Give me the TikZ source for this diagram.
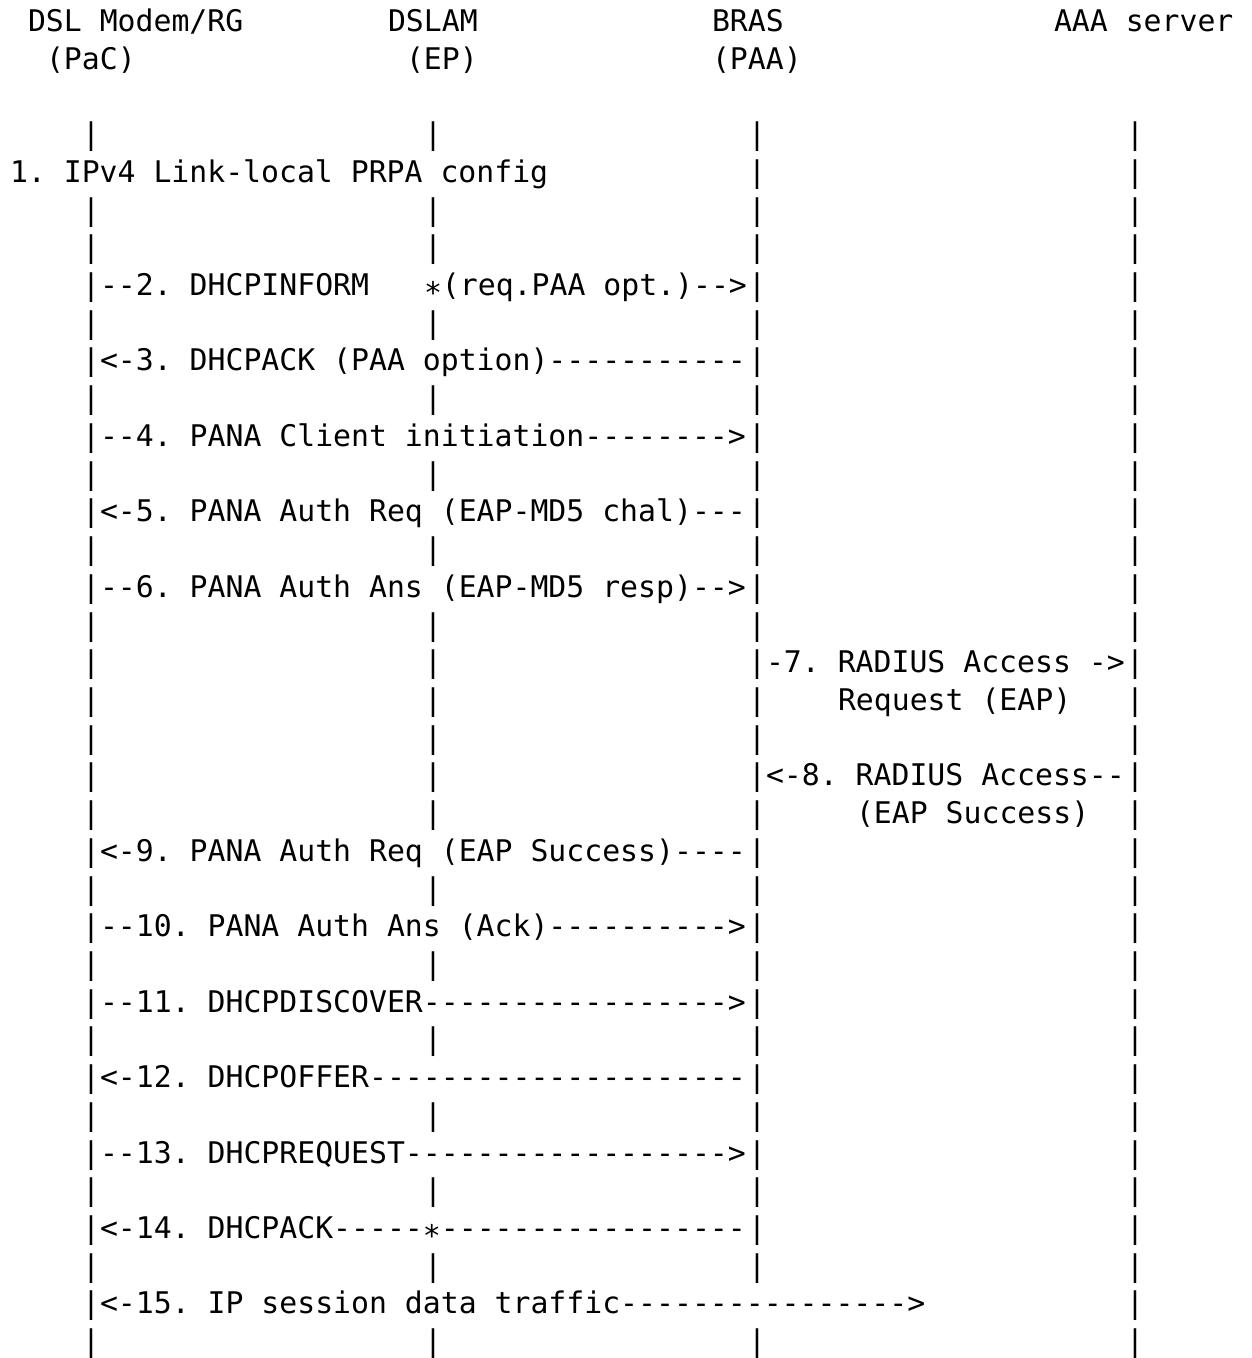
\documentclass[tikz,border=0pt]{standalone}
\usepackage{fontspec}
\setmonofont{DejaVu Sans Mono}
\ExplSyntaxOn
\cs_new:Npn \dashrun #1 { \prg_replicate:nn {#1} {-} }
\ExplSyntaxOff
% asterisk set at dash height
\newcommand\lowstar{\raisebox{-0.26em}{*}}
\tikzset{
  ascii/.style={font=\ttfamily\fontsize{29.8pt}{37.72pt}\selectfont,
    inner sep=0pt, outer sep=0pt, anchor=base west, text=black},
}
\begin{document}
% one unit in x is one character cell, one unit in y is one text line
\begin{tikzpicture}[x=18pt, y=-37.72pt]
\useasboundingbox (-10pt,31.5pt) rectangle (1241pt,-1326.5pt);

% column headings
\node[ascii] (hpac)  at (1,0)  {DSL Modem/RG};
\node[ascii] (hdsl)  at (21,0) {DSLAM};
\node[ascii] (hbras) at (39,0) {BRAS};
\node[ascii] (haaa)  at (58,0) {AAA server};
\node[ascii] (rpac)  at (2,1)  {(PaC)};
\node[ascii] (rep)   at (22,1) {(EP)};
\node[ascii] (rpaa)  at (39,1) {(PAA)};

% lifelines, one bar per text line
\foreach \r in {3,5,6,...,35}
  \node[ascii] (pac\r) at (4,\r) {|};
\foreach \r in {3,5,6,8,10,12,14,16,17,18,19,20,21,23,25,27,29,31,33,35}
  \node[ascii] (ep\r) at (23,\r) {|};
\foreach \r in {3,...,33,35}
  \node[ascii] (paa\r) at (41,\r) {|};
\foreach \r in {3,...,35}
  \node[ascii] (aaa\r) at (62,\r) {|};

% message flow
\node[ascii] (m1)  at (0,4)  {1. IPv4 Link-local PRPA config};
\node[ascii] (m2a) at (5,7)  {--2. DHCPINFORM};
\node[ascii] (m2b) at (23,7) {\lowstar(req.PAA opt.)-->};
\node[ascii] (m3)  at (5,9)  {<-3. DHCPACK (PAA option)\dashrun{11}};
\node[ascii] (m4)  at (5,11) {--4. PANA Client initiation\dashrun{8}>};
\node[ascii] (m5)  at (5,13) {<-5. PANA Auth Req (EAP-MD5 chal)\dashrun{3}};
\node[ascii] (m6)  at (5,15) {--6. PANA Auth Ans (EAP-MD5 resp)-->};
\node[ascii] (m7a) at (42,17) {-7. RADIUS Access ->};
\node[ascii] (m7b) at (46,18) {Request (EAP)};
\node[ascii] (m8a) at (42,20) {<-8. RADIUS Access--};
\node[ascii] (m8b) at (47,21) {(EAP Success)};
\node[ascii] (m9)  at (5,22) {<-9. PANA Auth Req (EAP Success)\dashrun{4}};
\node[ascii] (m10) at (5,24) {--10. PANA Auth Ans (Ack)\dashrun{10}>};
\node[ascii] (m11) at (5,26) {--11. DHCPDISCOVER\dashrun{17}>};
\node[ascii] (m12) at (5,28) {<-12. DHCPOFFER\dashrun{21}};
\node[ascii] (m13) at (5,30) {--13. DHCPREQUEST\dashrun{18}>};
\node[ascii] (m14) at (5,32) {<-14. DHCPACK\dashrun{5}\lowstar\dashrun{17}};
\node[ascii] (m15) at (5,34) {<-15. IP session data traffic\dashrun{16}>};
\end{tikzpicture}
\end{document}
